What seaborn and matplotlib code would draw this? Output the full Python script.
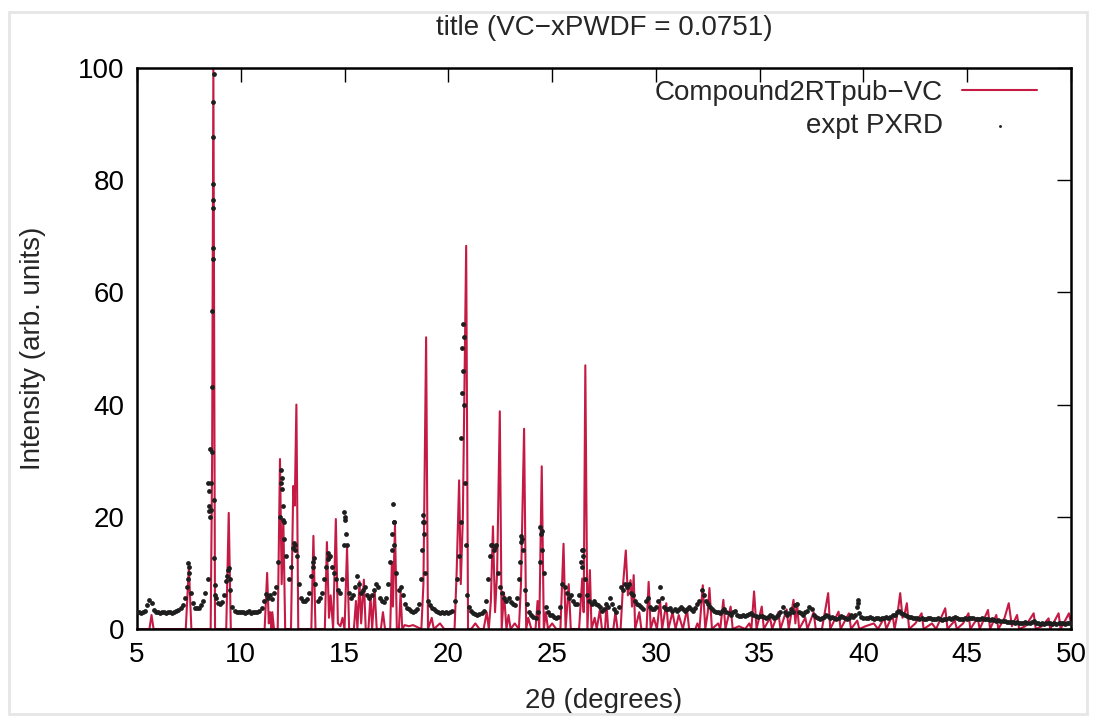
import numpy as np
import pandas as pd
import seaborn as sns
import matplotlib.pyplot as plt
from matplotlib.patches import Rectangle

# simulated pattern (Compound2RTpub-VC), vertices
sim_x = [5.0, 5.6, 5.7, 5.8, 7.35, 7.5, 7.62, 8.55, 8.62, 8.68, 8.76,
         9.3, 9.42, 9.52, 11.15, 11.27, 11.35, 11.42, 11.48, 11.52, 11.6,
         11.78, 11.89, 11.97, 12.05, 12.14, 12.42, 12.53, 12.6, 12.68, 12.77,
         13.4, 13.5, 13.6, 14.05, 14.15, 14.25, 14.33, 14.45, 14.58, 14.68,
         14.8, 14.9, 15.0, 15.12, 15.22, 15.45, 15.55, 15.62, 15.72, 15.8,
         15.93, 16.02, 16.15, 16.25, 16.33, 16.45, 16.55, 16.75, 16.85, 16.95,
         17.2, 17.28, 17.33, 17.43, 17.52, 17.62, 17.7, 17.78, 17.9, 18.1,
         18.3, 18.7, 18.8, 18.93, 19.02, 19.2, 19.3, 19.6, 19.8, 20.3,
         20.4, 20.52, 20.6, 20.7, 20.86, 20.95, 21.1, 21.3, 21.5, 21.7,
         21.85, 21.95, 22.05, 22.15, 22.25, 22.35, 22.48, 22.57, 22.68, 22.8,
         22.9, 23.0, 23.2, 23.4, 23.5, 23.65, 23.75, 23.85, 24.0, 24.2,
         24.3, 24.38, 24.5, 24.6, 24.7, 24.8, 25.0, 25.2, 25.4, 25.55,
         25.65, 25.8, 25.9, 26.3, 26.45, 26.52, 26.6, 26.7, 26.82, 26.9,
         27.05, 27.15, 27.3, 27.4, 27.55, 27.62, 27.7, 27.95, 28.05, 28.15,
         28.3, 28.42, 28.55, 28.65, 28.78, 28.85, 28.93, 29.0, 29.2, 29.3,
         29.55, 29.65, 29.75, 29.9, 30.05, 30.2, 30.3, 30.5, 30.6, 30.8,
         30.95, 31.1, 31.3, 31.5, 31.6, 31.9, 32.0, 32.1, 32.26, 32.38,
         32.5, 32.58, 32.7, 33.0, 33.1, 33.25, 33.35, 33.6, 33.7, 34.0,
         34.3, 34.5, 34.6, 34.73, 34.85, 35.1, 35.2, 35.5, 35.6, 35.9,
         36.0, 36.3, 36.4, 36.63, 36.72, 36.8, 36.9, 37.2, 37.3, 37.6,
         37.7, 38.0, 38.3, 38.4, 38.8, 38.9, 39.3, 39.4, 39.7, 39.8,
         40.1, 40.5, 40.7, 41.0, 41.1, 41.4, 41.5, 41.65, 41.77, 41.88,
         42.0, 42.09, 42.2, 42.5, 42.8, 42.9, 43.3, 43.5, 43.94, 44.05,
         44.4, 44.5, 44.8, 45.06, 45.15, 45.5, 45.6, 46.0, 46.1, 46.4,
         46.5, 46.8, 47.0, 47.15, 47.4, 47.5, 47.8, 48.2, 48.3, 48.6,
         48.92, 49.0, 49.4, 49.5, 49.9, 50.0]
sim_y = [0, 0, 2.5, 0, 0, 11, 0, 0, 30, 100, 0,
         0, 20.7, 0, 0, 10, 1, 3, 0, 3, 0,
         0, 30.3, 8, 19.5, 0, 0, 25.5, 22, 40, 0,
         0, 16.6, 0, 0, 15.5, 2, 6, 0, 19.6, 1,
         0.5, 2, 0, 14.5, 0, 0, 5, 0, 8.5, 1,
         8.8, 0, 0, 6, 0, 7, 0, 0, 3, 0,
         0, 12, 4, 18.5, 0, 0, 6.5, 0, 0.7, 0.5,
         0.7, 0, 8, 52, 0, 2, 0, 1, 0, 0,
         10, 26.5, 8, 20, 68.3, 0, 0, 1, 0, 0,
         3, 0, 5, 18.3, 3, 10, 38.8, 0, 6.5, 0,
         2.5, 0, 1, 0, 8, 35.7, 0, 2, 0, 0,
         5, 0, 29, 0, 3, 0, 1, 0, 0, 15.2,
         0, 8, 0, 0, 9, 3, 47, 0, 10.5, 0,
         2, 0, 3.4, 0, 0, 4.6, 0, 0, 3, 0,
         0, 8, 14, 6, 8.7, 4, 9.6, 0, 3, 0,
         0, 8.4, 0, 2, 0, 5.2, 0, 4.6, 0, 3,
         0, 2.5, 0, 3.5, 0, 0, 1, 0, 7.8, 0,
         3, 7.3, 0, 1, 0, 5.2, 0, 4, 0, 0.5,
         0, 1, 0, 6.7, 0, 4, 0, 2, 0, 3,
         0, 3.5, 0, 5.2, 1, 4.6, 0, 2, 0, 3,
         0, 0, 6.4, 0, 3.1, 0, 2.8, 0, 1.5, 0,
         0.5, 1, 0, 2, 0, 2.5, 0, 3, 6.4, 2,
         3, 4.6, 0, 1, 2.8, 0, 1, 0, 3.7, 0,
         1.5, 0, 1, 2.8, 0, 2, 0, 3.4, 0, 2.5,
         0, 2, 4.6, 0.5, 2.5, 0, 0.5, 2.8, 0, 0.5,
         1.9, 0, 2.8, 0, 2.8, 1]

# experimental scan, one row per degree, 0.1 deg steps from 5.0 to 50.0
expt_scan_y = [
    3.0, 3.1, 2.9, 3.1, 3.3, 4.2, 5.1, 4.6, 3.4, 3.0,
    3.0, 2.9, 3.1, 3.0, 2.9, 3.0, 3.1, 2.9, 3.0, 3.2,
    3.4, 3.8, 4.2, 5.5, 7.5, 11.0, 6.5, 4.6, 3.8, 3.7,
    3.8, 4.2, 5.0, 6.5, 9.0, 20.0, 31.5, 23.0, 5.5, 4.6,
    4.5, 4.8, 6.0, 8.5, 10.5, 7.0, 4.0, 3.3, 3.1, 3.0,
    3.0, 3.1, 2.9, 3.0, 3.2, 2.9, 3.0, 3.1, 3.0, 3.3,
    3.8, 5.0, 6.3, 5.5, 6.0, 5.4, 6.5, 7.5, 12.0, 20.0,
    25.0, 19.0, 13.0, 9.0, 11.0, 14.5, 15.0, 13.0, 8.0, 5.5,
    5.0, 5.0, 5.3, 6.5, 9.5, 12.0, 8.0, 5.0, 5.5, 6.5,
    9.0, 11.0, 12.5, 13.0, 11.0, 10.0, 9.0, 7.0, 6.5, 9.0,
    20.0, 15.0, 6.5, 5.5, 6.0, 7.5, 9.5, 8.0, 6.5, 7.0,
    7.5, 6.0, 5.5, 6.0, 7.0, 8.0, 7.5, 5.5, 5.0, 4.8,
    5.5, 8.0, 12.0, 17.0, 19.0, 10.0, 7.0, 7.5, 6.0, 4.5,
    3.8, 3.5, 3.2, 3.0, 3.2, 3.5, 4.5, 9.0, 19.0, 10.0,
    5.0, 4.2, 3.8, 3.5, 3.2, 3.0, 2.9, 3.0, 2.8, 3.0,
    2.9, 3.0, 3.2, 5.0, 9.0, 13.0, 19.0, 46.0, 26.0, 6.0,
    4.0, 3.2, 2.8, 2.6, 2.5, 2.6, 2.8, 3.2, 5.0, 9.0,
    13.0, 15.0, 14.0, 15.0, 10.0, 7.5, 6.5, 5.5, 5.0, 5.5,
    4.8, 4.5, 4.2, 5.5, 9.0, 15.5, 14.0, 7.0, 4.5, 3.0,
    2.5, 2.2, 2.0, 3.0, 12.0, 17.5, 10.0, 4.0, 3.0, 2.5,
    2.5, 2.2, 2.0, 2.2, 4.0, 8.0, 7.5, 6.5, 5.5, 6.0,
    5.0, 4.5, 4.5, 6.0, 12.0, 14.0, 9.0, 6.0, 5.0, 4.5,
    5.0, 4.5, 4.2, 4.0, 3.2, 3.5, 4.5, 4.0, 5.5, 4.5,
    3.5, 3.0, 4.0, 7.5, 7.0, 8.0, 7.5, 8.0, 6.5, 6.0,
    5.0, 4.5, 4.2, 4.0, 3.5, 5.0, 5.5, 4.0, 3.5, 3.5,
    4.0, 5.0, 7.5, 5.5, 4.0, 3.5, 3.5, 3.8, 3.2, 3.5,
    3.3, 3.5, 4.0, 3.5, 3.2, 3.5, 4.0, 3.5, 3.2, 3.8,
    4.5, 5.0, 7.0, 6.0, 5.0, 4.5, 4.0, 3.5, 3.2, 3.0,
    3.0, 2.8, 3.2, 3.5, 3.0, 2.8, 2.5, 3.0, 3.2, 2.5,
    2.3, 2.4, 2.5, 2.3, 2.5, 2.6, 2.8, 2.5, 2.3, 2.2,
    2.4, 2.3, 2.2, 2.0, 2.2, 2.5, 2.3, 2.0, 2.2, 2.5,
    3.0, 4.0, 3.0, 2.5, 2.8, 3.5, 3.0, 4.3, 4.5, 3.0,
    2.8, 2.5, 3.0, 3.2, 4.0, 3.5, 2.5, 2.2, 2.0, 1.8,
    2.0, 2.2, 2.5, 2.4, 2.0, 2.2, 2.0, 1.8, 2.0, 2.3,
    2.2, 2.0, 1.8, 2.0, 2.5, 2.2, 2.5, 4.0, 2.8, 2.2,
    2.0, 1.9, 2.0, 2.2, 2.0, 1.8, 1.9, 2.0, 1.8, 2.0,
    2.0, 2.2, 2.0, 2.2, 2.5, 2.5, 3.0, 3.2, 2.8, 2.6,
    2.5, 2.4, 2.2, 2.2, 2.0, 2.0, 1.9, 1.8, 1.9, 1.8,
    1.8, 1.9, 2.0, 1.8, 1.7, 1.8, 1.9, 1.8, 1.6, 1.7,
    1.8, 1.9, 1.8, 2.0, 2.2, 2.0, 1.8, 1.7, 1.8, 1.9,
    1.8, 1.9, 2.0, 1.9, 1.8, 1.7, 1.8, 1.9, 1.8, 1.7,
    1.8, 1.6, 1.7, 1.6, 1.5, 1.6, 1.5, 1.4, 1.5, 1.3,
    1.3, 1.2, 1.3, 1.1, 1.2, 1.0, 1.1, 1.0, 1.2, 1.1,
    1.0, 1.2, 1.4, 1.1, 1.0, 0.9, 1.0, 0.9, 1.1, 1.0,
    1.0, 0.9, 1.0, 0.9, 1.1, 1.0, 1.0, 0.9, 1.0, 1.0,
    1.0]

# extra experimental points on the steep peak flanks
expt_peak_x = [7.45, 7.48, 7.52,
               8.44, 8.45, 8.46, 8.47, 8.52, 8.55, 8.58, 8.62, 8.63, 8.64, 8.65,
               8.655, 8.66, 8.665, 8.67, 8.68, 8.69, 8.72, 8.74, 8.76,
               9.35, 9.42, 9.46,
               11.92, 11.95, 11.97, 12.02, 12.05, 12.08,
               12.55, 12.62, 13.47, 13.52, 14.22, 14.27,
               14.95, 14.98, 15.02, 15.05,
               17.28, 17.33, 17.36, 17.4,
               18.75, 18.78, 18.82, 18.85,
               20.62, 20.65, 20.68, 20.72, 20.74, 20.76, 20.83,
               22.05, 22.25, 23.47, 23.52, 23.56, 24.42, 24.47, 24.52,
               26.42, 26.46, 26.5, 39.72, 39.73]
expt_peak_y = [9.0, 11.7, 10.0,
               26.0, 24.6, 22.0, 21.0, 32.0, 21.3, 26.0, 43.2, 56.6, 66.0, 68.0,
               75.0, 76.5, 79.4, 87.7, 94.0, 99.0, 12.7, 7.8, 6.0,
               9.5, 10.9, 9.0,
               26.0, 28.3, 27.0, 22.0, 19.5, 16.0,
               15.3, 14.0, 11.0, 12.7, 13.5, 12.8,
               15.0, 20.8, 19.5, 17.0,
               14.0, 22.3, 19.0, 15.0,
               14.0, 20.3, 19.0, 17.0,
               34.0, 42.0, 50.0, 54.3, 52.0, 40.0, 15.0,
               15.0, 14.7, 12.0, 16.5, 16.0, 18.2, 17.0, 14.0,
               11.0, 14.1, 13.0, 5.2, 4.6]

sim = pd.DataFrame({'two_theta': sim_x, 'intensity': sim_y})
scan_x = np.round(np.arange(5.0, 50.05, 0.1), 1)
expt = pd.concat([
    pd.DataFrame({'two_theta': scan_x, 'intensity': expt_scan_y}),
    pd.DataFrame({'two_theta': expt_peak_x, 'intensity': expt_peak_y}),
])

sns.set_theme(style='white')
plt.rcParams['font.family'] = ['Liberation Sans', 'DejaVu Sans']

fig = plt.figure(figsize=(10.95, 7.17), dpi=100)
ax = fig.add_axes([0.1251, 0.1227, 0.8530, 0.7825])

sns.lineplot(data=sim, x='two_theta', y='intensity', estimator=None,
             color='#c41a44', linewidth=1.5, label='Compound2RTpub\u2212VC', ax=ax)
sns.scatterplot(data=expt, x='two_theta', y='intensity', color='#1e1e1e',
                s=12, linewidth=0, label='expt PXRD', ax=ax, zorder=3)

ax.set_xlim(5, 50)
ax.set_ylim(0, 100)
ax.set_xticks(range(5, 51, 5))
ax.set_yticks(range(0, 101, 20))
ax.tick_params(direction='in', length=10, width=1, top=True, right=True,
               labelsize=20, pad=9, colors='black')
for sp in ax.spines.values():
    sp.set_linewidth(1.8)
    sp.set_color('black')

ax.set_xlabel('2\u03b8 (degrees)', fontsize=20, labelpad=15)
ax.set_ylabel('Intensity (arb. units)', fontsize=20, labelpad=23)
fig.text(0.5516, 1 - 28 / 717, 'title (VC\u2212xPWDF = 0.0751)', fontsize=20,
         ha='center', va='center')

leg = ax.legend(loc='upper right', bbox_to_anchor=(1 - 17 / 934, 1 + 5 / 561),
                frameon=False, fontsize=20, markerfirst=False,
                handlelength=2.7, handletextpad=0.7, labelspacing=0.26,
                borderaxespad=0.3, borderpad=0.3, markerscale=0.6)

# faint screenshot border
fig.patches.append(Rectangle((9 / 1095, 3 / 717), 1078 / 1095, 702 / 717,
                             transform=fig.transFigure, fill=False,
                             edgecolor='#e6e6e6', linewidth=2))

fig.savefig('out.png', dpi=100, facecolor='white')
